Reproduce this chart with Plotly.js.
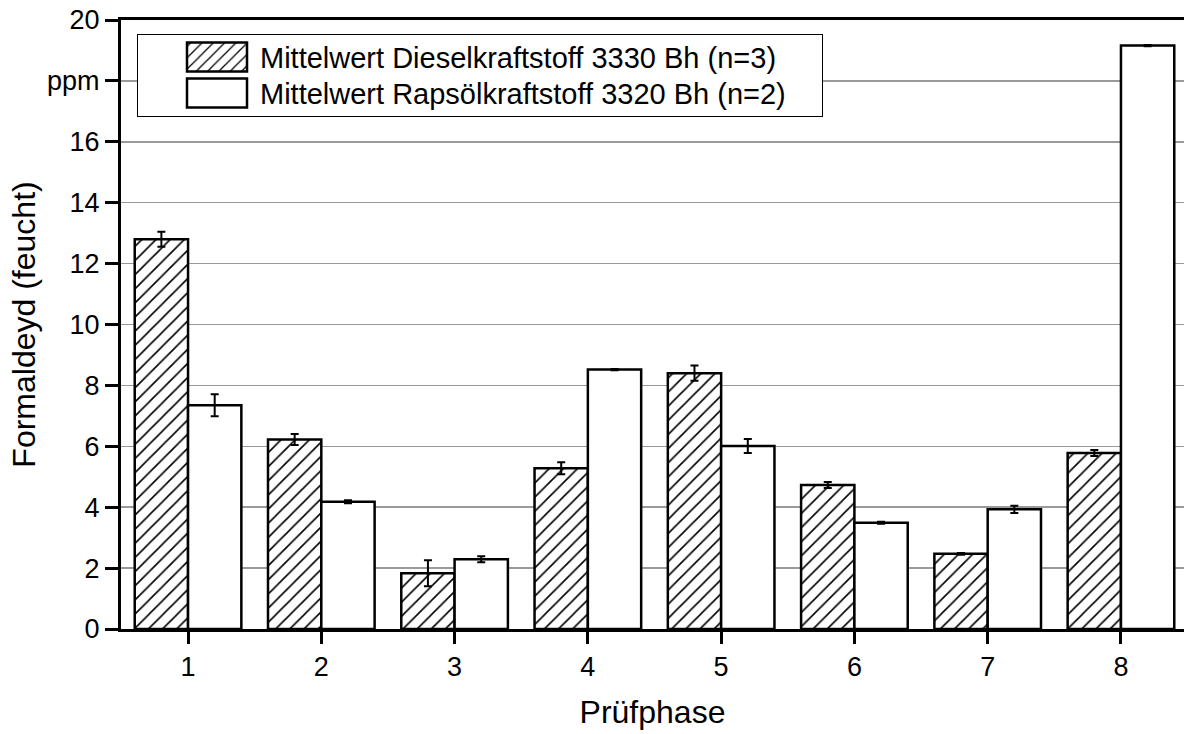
<!DOCTYPE html>
<html>
<head>
<meta charset="utf-8">
<script src="https://cdn.plot.ly/plotly-3.0.1.min.js"></script>
<style>html,body{margin:0;padding:0;background:#fff;}#chart{width:1184px;height:734px;}</style>
</head>
<body>
<div id="chart"></div>
<script>
const phases = [1, 2, 3, 4, 5, 6, 7, 8];
const dieselName = "Mittelwert Dieselkraftstoff 3330 Bh (n=3)";
const rapsName = "Mittelwert Rapsölkraftstoff 3320 Bh (n=2)";
const dieselValues = [12.8, 6.22, 1.83, 5.28, 8.4, 4.73, 2.47, 5.78];
const dieselErrors = [0.25, 0.18, 0.43, 0.2, 0.25, 0.1, 0.03, 0.1];
const rapsValues = [7.35, 4.18, 2.29, 8.52, 6.01, 3.49, 3.93, 19.16];
const rapsErrors = [0.36, 0.05, 0.1, 0.02, 0.23, 0.03, 0.12, 0.02];
const yTickVals = [0, 2, 4, 6, 8, 10, 12, 14, 16, 18, 20];
const yTickText = ["0", "2", "4", "6", "8", "10", "12", "14", "16", "ppm", "20"];
const xTitle = "Prüfphase";
const yTitle = "Formaldeyd (feucht)";

const font = "Arial, 'Liberation Sans', sans-serif";

const traces = [
  {
    type: "bar", x: phases, y: dieselValues, name: dieselName, legendgroup: "a",
    marker: {color: "white", line: {color: "black", width: 2.5},
      pattern: {shape: "/", fgcolor: "black", bgcolor: "white", size: 10, solidity: 0.16}},
    error_y: {type: "data", array: dieselErrors, visible: true, color: "black", thickness: 2, width: 4}
  },
  {
    type: "bar", x: phases, y: rapsValues, name: rapsName, legendgroup: "b",
    marker: {color: "white", line: {color: "black", width: 2.5}},
    error_y: {type: "data", array: rapsErrors, visible: true, color: "black", thickness: 2, width: 4}
  }
];

const layout = {
  width: 1184, height: 734,
  margin: {l: 121, r: 0, t: 20, b: 105},
  paper_bgcolor: "white", plot_bgcolor: "white",
  font: {family: font, color: "black", size: 27},
  barmode: "group", bargap: 0.2, bargroupgap: 0,
  showlegend: true,
  legend: {
    x: 0.015, y: 0.977, xanchor: "left", yanchor: "top",
    bgcolor: "white", bordercolor: "black", borderwidth: 1,
    font: {family: font, size: 29, color: "black"},
    itemwidth: 111, tracegroupgap: 0, traceorder: "normal"
  },
  xaxis: {
    range: [0.497, 8.473], tickvals: phases, ticktext: phases.map(String),
    showline: true, linecolor: "black", linewidth: 3, mirror: true,
    ticks: "outside", ticklen: 12, tickwidth: 3, tickcolor: "black",
    showgrid: false, zeroline: false,
    tickfont: {family: font, size: 27, color: "black"},
    title: {text: xTitle, font: {family: font, size: 32, color: "black"}, standoff: 20}
  },
  yaxis: {
    range: [0, 20], tickvals: yTickVals, ticktext: yTickText,
    showline: true, linecolor: "black", linewidth: 3, mirror: false,
    ticks: "outside", ticklen: 13, tickwidth: 3, tickcolor: "black",
    showgrid: true, gridcolor: "#9a9a9a", gridwidth: 1.5, zeroline: false,
    tickfont: {family: font, size: 27, color: "black"},
    title: {text: yTitle, font: {family: font, size: 32, color: "black"}, standoff: 2}
  }
};

function parseTranslate(t) {
  const m = /translate\(\s*([-\d.e]+)[ ,]+([-\d.e]+)\s*\)/.exec(t || "");
  return m ? [parseFloat(m[1]), parseFloat(m[2])] : [0, 0];
}

Plotly.newPlot("chart", traces, layout, {displayModeBar: false, staticPlot: true}).then(function (gd) {
  const root = gd.getBoundingClientRect();
  const targetCy = [57, 93];
  const targetCx = 217;
  const targetTextLeft = 260;
  gd.querySelectorAll(".legend .traces").forEach(function (g, i) {
    const txt = g.querySelector(".legendtext");
    if (!txt) return;
    const r = txt.getBoundingClientRect();
    const cy = (r.top + r.bottom) / 2 - root.top;
    const lx = r.left - root.left;
    const dy = targetCy[i] - cy + 1;
    const dx = targetTextLeft - lx;
    const tr = parseTranslate(g.getAttribute("transform"));
    g.setAttribute("transform", "translate(" + (tr[0] + dx) + "," + (tr[1] + dy) + ")");
  });
  gd.querySelectorAll(".legend .traces .legendpoints path").forEach(function (p, i) {
    p.setAttribute("d", "M30,14.5H-30V-14.5H30Z");
    p.style.strokeWidth = "2.5px";
    const r = p.getBoundingClientRect();
    const cx = (r.left + r.right) / 2 - root.left;
    const cy = (r.top + r.bottom) / 2 - root.top;
    const dx = targetCx - cx;
    const dy = targetCy[i] - cy;
    p.setAttribute("d", "M" + (30 + dx) + "," + (14.5 + dy) + "H" + (-30 + dx) + "V" + (-14.5 + dy) + "H" + (30 + dx) + "Z");
  });
  const bg = gd.querySelector(".legend rect.bg");
  if (bg) {
    const bb = bg.getBoundingClientRect();
    bg.setAttribute("width", String(822 - (bb.left - root.left)));
    bg.setAttribute("height", String(116 - (bb.top - root.top)));
  }
});
</script>
</body>
</html>
